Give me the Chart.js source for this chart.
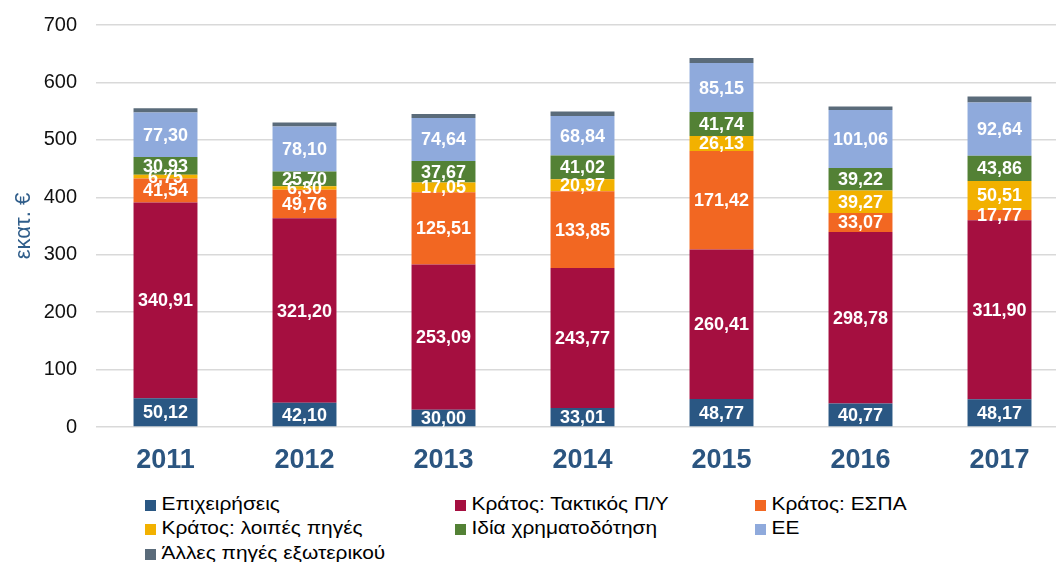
<!DOCTYPE html>
<html>
<head>
<meta charset="utf-8">
<script src="https://cdn.jsdelivr.net/npm/chart.js@4.4.1/dist/chart.umd.min.js"></script>
<style>
  body { margin: 0; width: 1056px; height: 562px; overflow: hidden; background: #fff; position: relative; font-family: "Liberation Sans", Arial, sans-serif; }
  .wrap { position: absolute; left: 0; top: 0; width: 1072px; height: 480px; }
  .legend { position: absolute; left: 0; top: 0; }
  .legend .item { position: absolute; font-size: 19px; color: #000; white-space: nowrap; line-height: 20px; transform: scaleX(1.1); transform-origin: left center; }
  .legend .box { display: inline-block; width: 10px; height: 11px; margin-right: 5px; vertical-align: -1px; }
</style>
</head>
<body>
<div class="wrap"><canvas id="myChart"></canvas></div>
<div class="legend" id="legend"></div>
<script>
// χρονιές
const years = ['2011', '2012', '2013', '2014', '2015', '2016', '2017'];

// πηγές χρηματοδότησης (εκατ. €)
const epixeiriseis = [50.12, 42.10, 30.00, 33.01, 48.77, 40.77, 48.17];
const taktikos = [340.91, 321.20, 253.09, 243.77, 260.41, 298.78, 311.90];
const espa = [41.54, 49.76, 125.51, 133.85, 171.42, 33.07, 17.77];
const loipes = [6.75, 6.30, 17.05, 20.97, 26.13, 39.27, 50.51];
const idia = [30.93, 25.70, 37.67, 41.02, 41.74, 39.22, 43.86];
const ee = [77.30, 78.10, 74.64, 68.84, 85.15, 101.06, 92.64];
const alles = [7.5, 7.2, 7.0, 8.0, 9.0, 5.8, 10.5];

const yTicks = [0, 100, 200, 300, 400, 500, 600, 700];

const series = [
  { label: 'Επιχειρήσεις', data: epixeiriseis, color: '#2A5783', showValues: true },
  { label: 'Κράτος: Τακτικός Π/Υ', data: taktikos, color: '#A50F40', showValues: true },
  { label: 'Κράτος: ΕΣΠΑ', data: espa, color: '#F26722', showValues: true },
  { label: 'Κράτος: λοιπές πηγές', data: loipes, color: '#F2B100', showValues: true },
  { label: 'Ιδία χρηματοδότηση', data: idia, color: '#538135', showValues: true },
  { label: 'ΕΕ', data: ee, color: '#8FAADC', showValues: true },
  { label: 'Άλλες πηγές εξωτερικού', data: alles, color: '#5A6B7A', showValues: false }
];

// τιμές μέσα στις μπάρες
const valueLabels = {
  id: 'valueLabels',
  afterDatasetsDraw(chart) {
    const ctx = chart.ctx;
    ctx.save();
    ctx.fillStyle = '#fff';
    ctx.font = 'bold 18px "Liberation Sans", Arial, sans-serif';
    ctx.textAlign = 'center';
    ctx.textBaseline = 'middle';
    chart.data.datasets.forEach((ds, i) => {
      if (!series[i].showValues) return;
      chart.getDatasetMeta(i).data.forEach((bar, j) => {
        const y = (bar.y + bar.base) / 2;
        ctx.fillText(ds.data[j].toFixed(2).replace('.', ','), bar.x, y + 1);
      });
    });
    ctx.restore();
  }
};

const ctx = document.getElementById('myChart');

const myChart = new Chart(ctx, {
  type: 'bar',
  data: {
    labels: years,
    datasets: series.map((s) => ({
      label: s.label,
      data: s.data,
      backgroundColor: s.color,
      borderWidth: 0,
      barPercentage: 0.46,
      categoryPercentage: 1
    }))
  },
  options: {
    responsive: true,
    maintainAspectRatio: false,
    animation: false,
    layout: { padding: { top: 25, right: 3, left: 0, bottom: 0 } },
    plugins: {
      legend: { display: false },
      tooltip: { enabled: false }
    },
    scales: {
      x: {
        stacked: true,
        grid: { display: false },
        border: { display: false },
        ticks: {
          color: '#2B5580',
          font: { family: '"Liberation Sans", Arial, sans-serif', size: 27, weight: 'bold' },
          padding: 9
        },
        afterFit(scale) { scale.height = 53; }
      },
      y: {
        stacked: true,
        min: 0,
        max: 700,
        afterBuildTicks(scale) { scale.ticks = yTicks.map((v) => ({ value: v })); },
        grid: { color: '#D9D9D9', lineWidth: 1.5, drawTicks: false },
        border: { display: false },
        ticks: {
          color: '#111',
          padding: 19,
          font: { family: '"Liberation Sans", Arial, sans-serif', size: 20 }
        },
        title: {
          display: true,
          text: 'εκατ. €',
          color: '#2F5D8A',
          font: { family: '"Liberation Sans", Arial, sans-serif', size: 22 },
          padding: { top: 11, bottom: 0 }
        },
        afterFit(scale) {
          scale.width = 96;
          scale.paddingTop = 0;
          scale.paddingBottom = 0;
        }
      }
    }
  },
  plugins: [valueLabels]
});

// υπόμνημα σε τρεις στήλες
const legendEl = document.getElementById('legend');
const colX = [145, 455, 755];
const rowY = [494, 518, 543];
series.forEach((s, i) => {
  const item = document.createElement('div');
  item.className = 'item';
  item.style.left = colX[i % 3] + 'px';
  item.style.top = rowY[Math.floor(i / 3)] + 'px';
  item.innerHTML = '<span class="box" style="background:' + s.color + '"></span>' + s.label;
  legendEl.appendChild(item);
});
</script>
</body>
</html>
